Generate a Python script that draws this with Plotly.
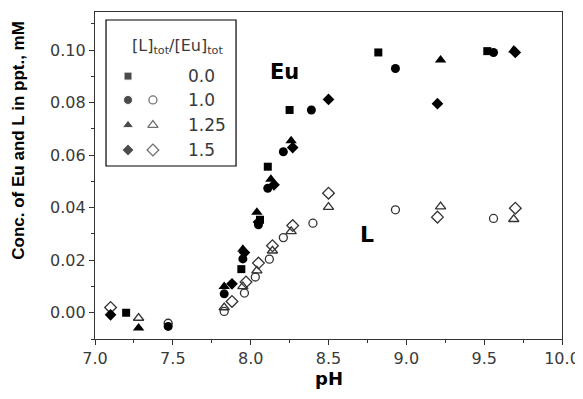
import plotly.graph_objects as go

# ---- data (pH, concentration in mM) ----
eu_sq_ph = [7.20, 7.94, 8.06, 8.11, 8.25, 8.82, 9.52]
eu_sq_c = [0.000, 0.0166, 0.0354, 0.0556, 0.0772, 0.0991, 0.0996]

eu_ci_ph = [7.47, 7.83, 7.95, 8.05, 8.11, 8.21, 8.39, 8.93, 9.56]
eu_ci_c = [-0.0052, 0.0072, 0.0205, 0.0335, 0.0474, 0.0613, 0.0772, 0.093, 0.0991]

eu_tr_ph = [7.28, 7.83, 7.95, 8.04, 8.13, 8.26, 9.22, 9.69]
eu_tr_c = [-0.0058, 0.010, 0.0242, 0.0383, 0.0508, 0.0655, 0.0962, 0.100]

eu_di_ph = [7.10, 7.88, 7.96, 8.05, 8.15, 8.27, 8.50, 9.20, 9.70]
eu_di_c = [-0.0008, 0.011, 0.0229, 0.0345, 0.0487, 0.0629, 0.0812, 0.0796, 0.0991]

l_ci_ph = [7.47, 7.83, 7.96, 8.03, 8.12, 8.21, 8.40, 8.93, 9.56]
l_ci_c = [-0.004, 0.0005, 0.0075, 0.0136, 0.0204, 0.0286, 0.0341, 0.0392, 0.0359]

l_tr_ph = [7.28, 7.83, 7.95, 8.04, 8.14, 8.26, 8.50, 9.22, 9.69]
l_tr_c = [-0.002, 0.002, 0.010, 0.016, 0.0236, 0.031, 0.0402, 0.0404, 0.0356]

l_di_ph = [7.10, 7.88, 7.97, 8.05, 8.14, 8.27, 8.50, 9.20, 9.70]
l_di_c = [0.002, 0.0043, 0.0117, 0.0189, 0.0255, 0.0332, 0.0455, 0.0364, 0.0398]

ratio_labels = ["0.0", "1.0", "1.25", "1.5"]
x_ticks = [7.0, 7.5, 8.0, 8.5, 9.0, 9.5, 10.0]
y_ticks = [0.00, 0.02, 0.04, 0.06, 0.08, 0.10]

FONT = "DejaVu Sans, sans-serif"
BFONT = "Liberation Sans, Arial, sans-serif"
TXT = "#3a3a3a"

fig = go.Figure()

def add(x, y, sym, filled, size):
    if filled:
        m = dict(symbol=sym, size=size, color="black", line=dict(width=0))
    else:
        m = dict(symbol=sym + "-open", size=size, color="#333", line=dict(width=1.3, color="#333"))
    fig.add_trace(go.Scatter(x=x, y=y, mode="markers", marker=m, showlegend=False, hoverinfo="skip"))

# open (L) first, then filled (Eu)
add(l_ci_ph, l_ci_c, "circle", False, 8)
add(l_tr_ph, l_tr_c, "triangle-up", False, 9)
add(l_di_ph, l_di_c, "diamond", False, 9)
add(eu_sq_ph, eu_sq_c, "square", True, 8)
add(eu_ci_ph, eu_ci_c, "circle", True, 9)
add(eu_tr_ph, eu_tr_c, "triangle-up", True, 10)
add(eu_di_ph, eu_di_c, "diamond", True, 9)

# legend markers on an overlay axis
leg_rows = [0.804, 0.731, 0.654, 0.578]
leg_fx = 0.0707
leg_ox = 0.124
filled_syms = ["square", "circle", "triangle-up", "diamond"]
open_syms = ["circle-open", "triangle-up-open", "diamond-open"]
fig.add_trace(go.Scatter(x=[leg_fx] * 4, y=leg_rows, mode="markers", xaxis="x2", yaxis="y2",
                         marker=dict(symbol=filled_syms, size=[8, 9, 10, 9], color="black"),
                         showlegend=False, hoverinfo="skip"))
fig.add_trace(go.Scatter(x=[leg_ox] * 3, y=leg_rows[1:], mode="markers", xaxis="x2", yaxis="y2",
                         marker=dict(symbol=open_syms, size=[8, 9, 9], color="#333",
                                     line=dict(width=1.3, color="#333")),
                         showlegend=False, hoverinfo="skip"))

for lab, yy in zip(ratio_labels, leg_rows):
    fig.add_annotation(x=0.195, y=yy, xref="paper", yref="paper", text=lab, showarrow=False,
                       xanchor="left", yanchor="middle", font=dict(family=FONT, size=17, color=TXT))
fig.add_annotation(x=0.177, y=0.893, xref="paper", yref="paper",
                   text="[L]<sub>tot</sub>/[Eu]<sub>tot</sub>", showarrow=False,
                   xanchor="center", yanchor="middle", font=dict(family=FONT, size=16, color=TXT))
fig.add_shape(type="rect", xref="paper", yref="paper", x0=0.0236, x1=0.302, y0=0.529, y1=0.9755,
              line=dict(color="black", width=1.2))

fig.add_annotation(x=8.22, y=0.0918, text="<b>Eu</b>", showarrow=False,
                   font=dict(family=FONT, size=21, color="black"))
fig.add_annotation(x=8.75, y=0.0297, text="<b>L</b>", showarrow=False,
                   font=dict(family=FONT, size=22, color="black"))

# axis titles as annotations (positioned like the reference)
fig.add_annotation(x=0.500, y=-0.12, xref="paper", yref="paper", text="<b>pH</b>", showarrow=False,
                   xanchor="center", yanchor="middle", font=dict(family=FONT, size=18, color="black"))
fig.add_annotation(x=-0.163, y=0.609, xref="paper", yref="paper",
                   text="<b>Conc. of Eu and L in ppt., mM</b>", showarrow=False, textangle=-90,
                   xanchor="center", yanchor="middle", font=dict(family=BFONT, size=17, color="black"))

axis_common = dict(showgrid=False, zeroline=False, showline=True, linecolor="#333", linewidth=1.2,
                   mirror=True, ticks="outside", ticklen=5, tickcolor="#333", tickwidth=1,
                   tickfont=dict(family=FONT, size=16, color=TXT))

# page body has an 8px margin, so the figure is offset by 8px; compensate in size/margins
fig.update_layout(
    width=575, height=391,
    margin=dict(l=87, r=21, t=4, b=60, autoexpand=False),
    paper_bgcolor="white", plot_bgcolor="white",
    xaxis=dict(range=[7.0, 10.0], tickvals=x_ticks, ticktext=[f"{v:.1f}" for v in x_ticks],
               minor=dict(ticks="outside", dtick=0.25, ticklen=3, tickcolor="#333"),
               **axis_common),
    yaxis=dict(range=[-0.01, 0.1145], tickvals=y_ticks, ticktext=[f"{v:.2f}" for v in y_ticks],
               minor=dict(ticks="outside", dtick=0.01, ticklen=3, tickcolor="#333"),
               **axis_common),
    xaxis2=dict(domain=[0, 1], range=[0, 1], overlaying="x", visible=False),
    yaxis2=dict(domain=[0, 1], range=[0, 1], overlaying="y", visible=False),
)

fig.write_html("out.html")
